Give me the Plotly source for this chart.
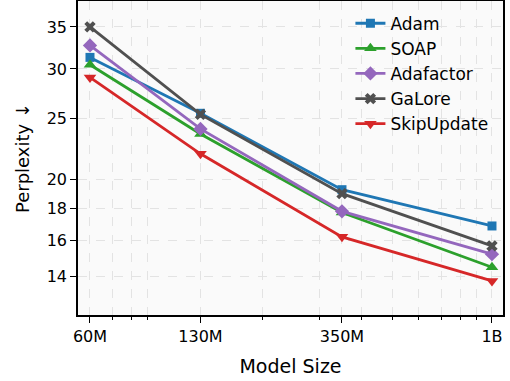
import plotly.graph_objects as go

model_sizes = [60, 130, 350, 1000]
tick_labels = ["60M", "130M", "350M", "1B"]

adam = [31.3, 25.5, 19.27, 16.87]
soap = [30.46, 23.64, 17.72, 14.5]
adafactor = [32.7, 24.08, 17.8, 15.21]
galore = [35.0, 25.4, 18.99, 15.68]
skipupdate = [29.08, 21.98, 16.21, 13.79]

series = [
    ("Adam", adam, "#1f77b4", "square", 9),
    ("SOAP", soap, "#2ca02c", "triangle-up", 11),
    ("Adafactor", adafactor, "#9467bd", "diamond", 11),
    ("GaLore", galore, "#505050", "x", 10),
    ("SkipUpdate", skipupdate, "#d62728", "triangle-down", 11),
]

fig = go.Figure()
for name, vals, color, sym, sz in series:
    fig.add_trace(go.Scatter(
        x=model_sizes, y=vals, name=name, mode="lines+markers",
        legendgroup=name,
        line=dict(color=color, width=2.8),
        marker=dict(symbol=sym, size=sz, color=color, line=dict(width=0)),
    ))

font = "DejaVu Sans"
grid = "#e3e3e3"
fig.update_layout(
    width=510, height=381,
    margin=dict(l=78, r=7, t=1, b=66),
    paper_bgcolor="white", plot_bgcolor="#fafafa",
    font=dict(family=font, size=16, color="black"),
    showlegend=True,
    legend=dict(x=0.641, y=0.985, xanchor="left", yanchor="top",
                bgcolor="rgba(0,0,0,0)", font=dict(size=17),
                tracegroupgap=0, itemwidth=30),
)
fig.update_xaxes(
    type="log", range=[1.7417, 3.0335], automargin=False,
    tickmode="array", tickvals=model_sizes, ticktext=tick_labels,
    ticks="outside", ticklen=6, tickwidth=1.2, tickcolor="black",
    showline=True, linecolor="black", linewidth=1.5, mirror=True,
    showgrid=True, gridcolor=grid, griddash="dash", gridwidth=1,
    zeroline=False, tickfont=dict(size=16),
    minor=dict(tickvals=[70, 80, 90, 200, 300, 400, 500, 600, 700, 800, 900],
               ticks="outside", ticklen=3.5, tickcolor="black",
               showgrid=True, gridcolor=grid, griddash="dash"),
    title=dict(text="Model Size", font=dict(size=19), standoff=15),
)
fig.update_yaxes(
    type="log", range=[1.08534, 1.58534], automargin=False,
    tickmode="array", tickvals=[14, 16, 18, 20, 25, 30, 35],
    ticktext=["14", "16", "18", "20", "25", "30", "35"],
    ticks="outside", ticklen=6, tickwidth=1.2, tickcolor="black",
    showline=True, linecolor="black", linewidth=1.5, mirror=True,
    showgrid=True, gridcolor=grid, griddash="dash", gridwidth=1,
    zeroline=False, tickfont=dict(size=16),
    title=dict(text="Perplexity ↓", font=dict(size=18), standoff=12),
)
fig.write_html("out.html", config={"displayModeBar": False},
               post_script="document.body.style.margin='0';")
